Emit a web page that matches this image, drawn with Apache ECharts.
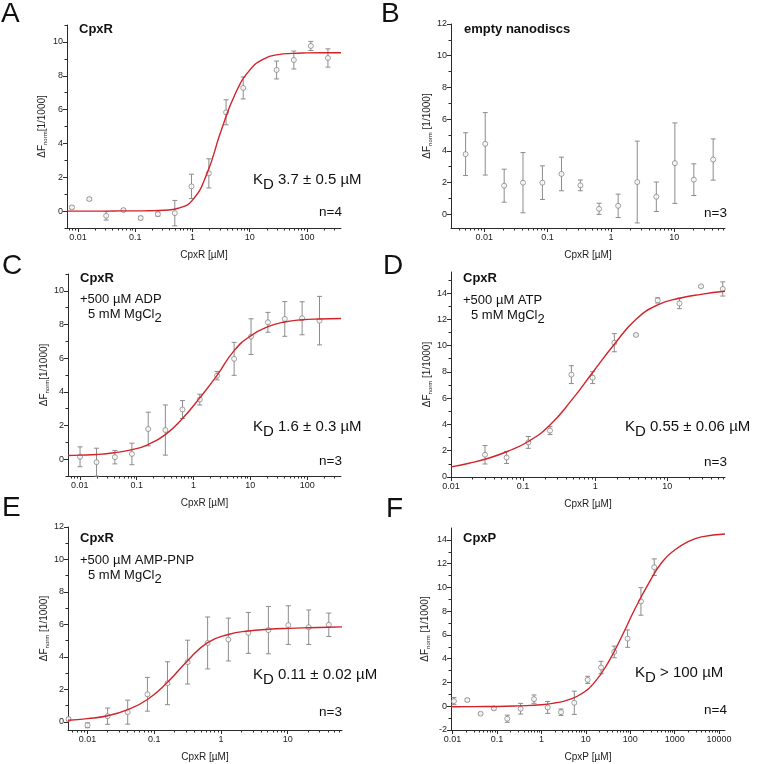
<!DOCTYPE html>
<html>
<head>
<meta charset="utf-8">
<script src="https://cdn.jsdelivr.net/npm/echarts@6/dist/echarts.min.js"></script>
<style>html,body{margin:0;padding:0;background:#fff}#c{width:760px;height:764px}</style>
</head>
<body>
<div id="c"></div>
<script>
// ---------- Panel A: CpxR ----------
const xA = [0.0078, 0.0157, 0.031, 0.062, 0.124, 0.248, 0.49, 0.96, 1.93, 3.86, 7.7, 29.5, 59, 117, 233];
const yA = [0.22, 0.71, -0.28, 0.06, -0.41, -0.18, -0.12, 1.46, 2.23, 5.84, 7.28, 8.34, 8.93, 9.76, 9.05];
const eA = [0.08, 0.08, 0.25, 0.08, 0.1, 0.12, 0.75, 0.72, 0.86, 0.74, 0.65, 0.53, 0.53, 0.27, 0.54];
const fitXA = [0.00646, 0.01, 0.0178, 0.0316, 0.0562, 0.1, 0.178, 0.316, 0.562, 1, 1.78, 3.16, 5.62, 10, 17.8, 31.6, 56.2, 100, 178, 394];
const fitYA = [0, 0, 0, 0, 0.01, 0.01, 0.02, 0.05, 0.17, 0.65, 2.2, 4.75, 6.95, 8.33, 9.0, 9.25, 9.32, 9.35, 9.36, 9.36];

// ---------- Panel B: empty nanodiscs ----------
const xB = [0.0051, 0.0104, 0.0207, 0.041, 0.083, 0.166, 0.33, 0.65, 1.3, 2.6, 5.2, 10.2, 20.3, 41];
const yB = [3.79, 4.44, 1.8, 1.99, 1.99, 2.54, 1.82, 0.34, 0.53, 2.03, 1.1, 3.22, 2.18, 3.45];
const eB = [1.35, 1.97, 1.04, 1.9, 1.06, 1.06, 0.34, 0.35, 0.74, 2.58, 0.93, 2.54, 1.0, 1.3];

// ---------- Panel C: CpxR + ADP ----------
const xC = [0.0101, 0.0197, 0.0414, 0.0826, 0.16, 0.32, 0.64, 1.29, 2.6, 5.19, 10.3, 20.4, 40.4, 81.6, 165];
const yC = [0.14, -0.18, 0.12, 0.31, 1.79, 1.73, 2.95, 3.54, 4.96, 5.96, 7.28, 8.13, 8.33, 8.37, 8.23];
const eC = [0.59, 0.83, 0.4, 0.64, 1.0, 1.49, 0.53, 0.32, 0.25, 0.98, 1.06, 0.59, 1.03, 0.98, 1.44];
const fitXC = [0.0062, 0.01, 0.02, 0.04, 0.08, 0.16, 0.32, 0.64, 1.29, 2.6, 5.19, 10.3, 20.4, 40.4, 81.6, 165, 394];
const fitYC = [0.22, 0.24, 0.28, 0.38, 0.55, 0.87, 1.46, 2.42, 3.64, 4.98, 6.45, 7.34, 7.87, 8.15, 8.28, 8.33, 8.36];

// ---------- Panel D: CpxR + ATP ----------
const xD = [0.0296, 0.059, 0.118, 0.236, 0.467, 0.92, 1.84, 3.68, 7.35, 14.7, 29.3, 58.6];
const yD = [1.69, 1.48, 2.63, 3.53, 7.79, 7.56, 10.22, 10.81, 13.44, 13.21, 14.51, 14.31];
const eD = [0.7, 0.45, 0.45, 0.3, 0.68, 0.45, 0.69, 0.08, 0.2, 0.4, 0.08, 0.54];
const fitXD = [0.01, 0.0178, 0.0296, 0.059, 0.118, 0.236, 0.467, 0.92, 1.84, 3.68, 7.35, 14.7, 29.3, 63];
const fitYD = [0.77, 1.05, 1.35, 1.92, 2.7, 3.96, 5.83, 7.95, 10.1, 12.0, 13.1, 13.6, 13.9, 14.13];

// ---------- Panel E: CpxR + AMP-PNP ----------
const xE = [0.0052, 0.01, 0.02, 0.04, 0.079, 0.158, 0.316, 0.63, 1.29, 2.57, 5.13, 10.2, 20.6, 41.2];
const yE = [0.17, -0.21, 0.35, 0.6, 1.7, 2.38, 3.68, 4.86, 5.07, 5.48, 5.65, 5.96, 5.83, 5.98];
const eE = [0.1, 0.15, 0.5, 0.74, 1.04, 1.32, 1.35, 1.6, 1.32, 1.26, 1.46, 1.19, 1.06, 0.72];
const fitXE = [0.0051, 0.01, 0.02, 0.04, 0.079, 0.158, 0.316, 0.63, 1.29, 2.57, 5.13, 10.2, 20.4, 40.7, 65];
const fitYE = [0.1, 0.2, 0.38, 0.76, 1.38, 2.44, 3.77, 4.88, 5.38, 5.6, 5.7, 5.76, 5.8, 5.83, 5.85];

// ---------- Panel F: CpxP ----------
const xF = [0.0107, 0.0214, 0.0427, 0.085, 0.17, 0.34, 0.68, 1.38, 2.76, 5.5, 11, 22, 43.6, 87, 174, 347];
const yF = [0.43, 0.52, -0.63, -0.18, -1.05, -0.21, 0.6, -0.1, -0.5, 0.29, 2.22, 3.26, 4.57, 5.69, 8.82, 11.7];
const eF = [0.3, 0.12, 0.08, 0.1, 0.3, 0.45, 0.35, 0.5, 0.27, 0.98, 0.3, 0.52, 0.49, 0.73, 1.16, 0.7];
const fitXF = [0.0092, 0.0316, 0.1, 0.316, 1, 2, 4, 8, 16, 32, 64, 128, 256, 512, 1000, 2000, 4000, 13600];
const fitYF = [-0.04, -0.03, -0.02, 0.03, 0.12, 0.27, 0.53, 1.05, 2.05, 3.7, 5.85, 8.2, 10.3, 12.1, 13.15, 13.85, 14.25, 14.5];

// ---------- tick labels ----------
const decadesA = [0.01, 0.1, 1, 10, 100];
const decadesB = [0.01, 0.1, 1, 10];
const decadesD = [0.01, 0.1, 1, 10];
const decadesE = [0.01, 0.1, 1, 10];
const decadesF = [0.01, 0.1, 1, 10, 100, 1000, 10000];
const yMajorA = [0, 2, 4, 6, 8, 10];
const yMinorA = [-1, 1, 3, 5, 7, 9, 11];
const yMajorB = [0, 2, 4, 6, 8, 10, 12];
const yMinorB = [1, 3, 5, 7, 9, 11];
const yMajorD = [0, 2, 4, 6, 8, 10, 12, 14];
const yMinorD = [1, 3, 5, 7, 9, 11, 13, 15];
const yMajorF = [-2, 0, 2, 4, 6, 8, 10, 12, 14];
const yMinorF = [-1, 1, 3, 5, 7, 9, 11, 13];

const FONT = '"Liberation Sans", Arial, Helvetica, sans-serif';
const AX = '#2b2b2b';

function minorLog(min, max) {
  const out = [];
  for (let p = -4; p <= 5; p++) {
    for (let m = 2; m <= 9; m++) {
      const v = m * Math.pow(10, p);
      if (v > min && v < max) out.push(+v.toPrecision(3));
    }
  }
  return out;
}
function fmtLog(v) {
  const p = Math.round(Math.log10(v));
  return p < 0 ? Math.pow(10, p).toFixed(-p) : String(Math.round(Math.pow(10, p)));
}

const panels = [
  {grid:{left:67, top:25, width:274, height:203}, xr:[0.0064, 394], yr:[-1, 11], dec:decadesA, yMaj:yMajorA, yMin:yMinorA, xs:xA, ys:yA, es:eA, fx:fitXA, fy:fitYA, xname:'CpxR [µM]', yGap:19, sp:''},
  {grid:{left:451, top:24, width:274, height:204}, xr:[0.003, 63], yr:[-0.87, 12], dec:decadesB, yMaj:yMajorB, yMin:yMinorB, xs:xB, ys:yB, es:eB, fx:null, fy:null, xname:'CpxR [µM]', yGap:17, sp:' '},
  {grid:{left:68, top:274, width:273, height:202}, xr:[0.0062, 394], yr:[-1, 11], dec:decadesA, yMaj:yMajorA, yMin:yMinorA, xs:xC, ys:yC, es:eC, fx:fitXC, fy:fitYC, xname:'CpxR [µM]', yGap:18, sp:''},
  {grid:{left:451, top:272, width:274, height:205}, xr:[0.01, 63], yr:[0, 15.6], dec:decadesD, yMaj:yMajorD, yMin:yMinorD, xs:xD, ys:yD, es:eD, fx:fitXD, fy:fitYD, xname:'CpxR [µM]', yGap:15, sp:' '},
  {grid:{left:68, top:527, width:274, height:203}, xr:[0.0051, 65], yr:[-0.5, 12], dec:decadesE, yMaj:yMajorB, yMin:yMinorB, xs:xE, ys:yE, es:eE, fx:fitXE, fy:fitYE, xname:'CpxR [µM]', yGap:17, sp:' '},
  {grid:{left:451, top:528, width:274, height:202}, xr:[0.0092, 13600], yr:[-2, 15], dec:decadesF, yMaj:yMajorF, yMin:yMinorF, xs:xF, ys:yF, es:eF, fx:fitXF, fy:fitYF, xname:'CpxP [µM]', yGap:20, sp:' '}
];

const grids = [], xAxes = [], yAxes = [], series = [];
function errItem(params, api) {
  const x = api.value(0), y = api.value(1), e = api.value(2);
  const t = api.coord([x, y + e]), b = api.coord([x, y - e]);
  const hw = 2.5, st = {stroke:'#8c8c8c', lineWidth:1};
  return {type:'group', children:[
    {type:'line', shape:{x1:t[0], y1:t[1], x2:b[0], y2:b[1]}, style:st},
    {type:'line', shape:{x1:t[0]-hw, y1:t[1], x2:t[0]+hw, y2:t[1]}, style:st},
    {type:'line', shape:{x1:b[0]-hw, y1:b[1], x2:b[0]+hw, y2:b[1]}, style:st}
  ]};
}
panels.forEach((p, i) => {
  grids.push(Object.assign({containLabel:false}, p.grid));
  const xi = xAxes.length, yi = yAxes.length;
  xAxes.push({
    type:'log', logBase:10, gridIndex:i, min:p.xr[0], max:p.xr[1], position:'bottom',
    axisLine:{show:true, onZero:false, lineStyle:{color:AX, width:1}},
    axisTick:{show:true, customValues:p.dec, length:4, lineStyle:{color:AX}},
    axisLabel:{customValues:p.dec, formatter:fmtLog, fontSize:9, color:'#222', fontFamily:FONT, margin:5},
    splitLine:{show:false}, minorTick:{show:false},
    name:p.xname, nameLocation:'middle', nameGap:22,
    nameTextStyle:{fontSize:10, color:'#222', fontFamily:FONT}
  });
  xAxes.push({
    type:'log', logBase:10, gridIndex:i, min:p.xr[0], max:p.xr[1], position:'bottom',
    axisLine:{show:false, onZero:false}, axisLabel:{show:false}, splitLine:{show:false},
    axisTick:{show:true, customValues:minorLog(p.xr[0], p.xr[1]), length:2.5, lineStyle:{color:AX}}
  });
  yAxes.push({
    type:'value', gridIndex:i, min:p.yr[0], max:p.yr[1], position:'left',
    axisLine:{show:true, onZero:false, lineStyle:{color:AX, width:1}},
    axisTick:{show:true, customValues:p.yMaj, length:4, lineStyle:{color:AX}},
    axisLabel:{customValues:p.yMaj, fontSize:9, color:'#222', fontFamily:FONT, margin:4},
    splitLine:{show:false},
    name:'{t|ΔF}{s|norm}{t|' + p.sp + '[1/1000]}', nameLocation:'middle', nameRotate:90, nameGap:p.yGap,
    nameTextStyle:{rich:{t:{fontSize:10, color:'#222', fontFamily:FONT}, s:{fontSize:6, color:'#222', fontFamily:FONT, padding:[6,0,0,0]}}}
  });
  yAxes.push({
    type:'value', gridIndex:i, min:p.yr[0], max:p.yr[1], position:'left',
    axisLine:{show:false, onZero:false}, axisLabel:{show:false}, splitLine:{show:false},
    axisTick:{show:true, customValues:p.yMin, length:2.5, lineStyle:{color:AX}}
  });
  const pts = p.xs.map((x, k) => [x, p.ys[k], p.es[k]]);
  series.push({type:'custom', xAxisIndex:xi, yAxisIndex:yi, renderItem:errItem, data:pts, z:2, clip:false, silent:true});
  series.push({type:'scatter', xAxisIndex:xi, yAxisIndex:yi, data:pts.map(d => [d[0], d[1]]), symbol:'circle', symbolSize:5,
    itemStyle:{color:'#fff', borderColor:'#7a7a7a', borderWidth:0.9}, z:3, silent:true});
  if (p.fx) {
    series.push({type:'line', xAxisIndex:xi, yAxisIndex:yi, data:p.fx.map((x, k) => [x, p.fy[k]]), showSymbol:false,
      smooth:0.5, lineStyle:{color:'#d2232a', width:1.4}, z:4, silent:true});
  }
});

function txt(x, y, text, opt) {
  return {type:'text', x:x, y:y, silent:true, style:Object.assign({text:text, fill:'#111', font:'13px ' + FONT, align:'left', verticalAlign:'middle'}, opt || {})};
}
function richTxt(x, y, text, rich, opt) {
  return {type:'text', x:x, y:y, silent:true, style:Object.assign({text:text, rich:rich, fill:'#111', fontFamily:FONT, align:'left', verticalAlign:'middle'}, opt || {})};
}
const kdRich = {k:{fontSize:15, fontFamily:FONT, fill:'#111'}, d:{fontSize:15, fontFamily:FONT, fill:'#111', padding:[10,0,0,0]}, t:{fontSize:15, fontFamily:FONT, fill:'#111'}};
const mgRich = {t:{fontSize:13, fontFamily:FONT, fill:'#111'}, s:{fontSize:13, fontFamily:FONT, fill:'#111', padding:[8,0,0,0]}};
const LET = {font:'28px ' + FONT, fill:'#111'};
const BOLD = {font:'bold 13px ' + FONT, fill:'#111'};
const NTX = {font:'13.5px ' + FONT, fill:'#111', align:'right'};

const graphic = [
  txt(1, 14, 'A', LET), txt(381, 14, 'B', LET), txt(2, 266, 'C', LET), txt(383, 266, 'D', LET), txt(2, 508, 'E', LET), txt(386, 509, 'F', LET),
  txt(79, 29, 'CpxR', BOLD), txt(464, 29, 'empty nanodiscs', BOLD), txt(80, 278, 'CpxR', BOLD), txt(463, 278, 'CpxR', BOLD), txt(80, 538, 'CpxR', BOLD), txt(463, 538, 'CpxP', BOLD),
  txt(80, 299, '+500 µM ADP'), richTxt(88, 314, '{t|5 mM MgCl}{s|2}', mgRich),
  txt(463, 300, '+500 µM ATP'), richTxt(471, 315, '{t|5 mM MgCl}{s|2}', mgRich),
  txt(80, 560, '+500 µM AMP-PNP'), richTxt(88, 575, '{t|5 mM MgCl}{s|2}', mgRich),
  richTxt(253, 180, '{k|K}{d|D}{t| 3.7 ± 0.5 µM}', kdRich),
  richTxt(253, 427, '{k|K}{d|D}{t| 1.6 ± 0.3 µM}', kdRich),
  richTxt(625, 427, '{k|K}{d|D}{t| 0.55 ± 0.06 µM}', kdRich),
  richTxt(253, 675, '{k|K}{d|D}{t| 0.11 ± 0.02 µM}', kdRich),
  richTxt(635, 673, '{k|K}{d|D}{t| > 100 µM}', kdRich),
  txt(342, 212, 'n=4', NTX), txt(727, 213, 'n=3', NTX), txt(342, 461, 'n=3', NTX), txt(727, 462, 'n=3', NTX), txt(342, 712, 'n=3', NTX), txt(727, 710, 'n=4', NTX)
];

const chart = echarts.init(document.getElementById('c'), null, {renderer:'canvas'});
chart.setOption({
  animation:false, backgroundColor:'#fff', textStyle:{fontFamily:FONT},
  grid:grids, xAxis:xAxes, yAxis:yAxes, series:series, graphic:graphic
});
</script>
</body>
</html>
